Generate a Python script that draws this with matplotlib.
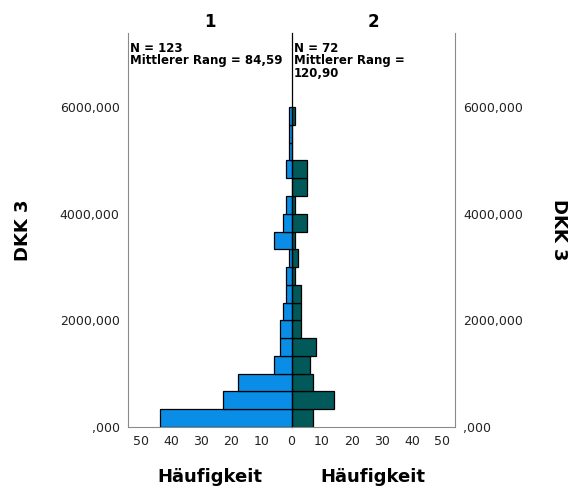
import numpy as np
import matplotlib
matplotlib.use("Agg")
import matplotlib.pyplot as plt

# Klassenbreite der Histogramme (DKK 3)
bin_width = 6000 / 18
bin_starts = np.arange(18) * bin_width

# Häufigkeiten je Klasse, Gruppe 1 (links) und Gruppe 2 (rechts)
freq_1 = [44, 23, 18, 6, 4, 4, 3, 2, 2, 1, 6, 3, 2, 0, 2, 1, 1, 1]
freq_2 = [7, 14, 7, 6, 8, 3, 3, 3, 1, 2, 1, 5, 1, 5, 5, 0, 0, 1]

group_titles = ["1", "2"]
info_1 = "N = 123\nMittlerer Rang = 84,59"
info_2 = "N = 72\nMittlerer Rang =\n120,90"

y_ticks = [0, 2000, 4000, 6000]
y_labels = [",000", "2000,000", "4000,000", "6000,000"]
x_ticks_left = [0, 10, 20, 30, 40, 50]
x_ticks_right = [10, 20, 30, 40, 50]

blue = "#0a8de6"
teal = "#02595a"
gray = "#8a8a8a"

fig = plt.figure(figsize=(5.7, 4.91), dpi=100)
bottom, top = 1 - 427 / 491, 1 - 33 / 491
x0, xm, x1 = 128 / 570, 291.5 / 570, 455 / 570
ax_l = fig.add_axes([x0, bottom, xm - x0, top - bottom])
ax_r = fig.add_axes([xm, bottom, x1 - xm, top - bottom], sharey=ax_l)
ax_r.patch.set_visible(False)

ax_l.barh(bin_starts, freq_1, height=bin_width, align="edge",
          color=blue, edgecolor="black", linewidth=0.9)
ax_r.barh(bin_starts, freq_2, height=bin_width, align="edge",
          color=teal, edgecolor="black", linewidth=0.9)

ax_l.set_xlim(54.5, 0)
ax_r.set_xlim(0, 54.3)
ax_l.set_ylim(0, 7390)

for ax in (ax_l, ax_r):
    ax.spines["top"].set_visible(False)
    ax.spines["bottom"].set_color(gray)
    ax.tick_params(length=0, labelsize=9, labelcolor="#222222", pad=6)

ax_l.spines["left"].set_color(gray)
ax_l.spines["right"].set_visible(False)
ax_r.spines["left"].set_color("black")
ax_r.spines["left"].set_linewidth(0.9)
ax_r.spines["right"].set_color(gray)

ax_l.set_xticks(x_ticks_left)
ax_l.set_xticklabels([str(v) for v in x_ticks_left])
ax_r.set_xticks(x_ticks_right)
ax_r.set_xticklabels([str(v) for v in x_ticks_right])

ax_l.set_yticks(y_ticks)
ax_l.set_yticklabels(y_labels)
ax_r.yaxis.tick_right()
ax_r.tick_params(axis="y", labelright=True, labelleft=False)
ax_r.set_yticks(y_ticks)
ax_r.set_yticklabels(y_labels)

ax_l.set_ylabel("DKK 3", fontsize=13, fontweight="bold", labelpad=20)
ax_r.yaxis.set_label_position("right")
ax_r.set_ylabel("DKK 3", fontsize=13, fontweight="bold", rotation=270,
                labelpad=32)

ax_l.set_xlabel("Häufigkeit", fontsize=13, fontweight="bold", labelpad=14)
ax_r.set_xlabel("Häufigkeit", fontsize=13, fontweight="bold", labelpad=14)

ax_l.set_title(group_titles[0], fontsize=12, fontweight="bold", pad=4)
ax_r.set_title(group_titles[1], fontsize=12, fontweight="bold", pad=4)

ax_l.text(0.012, 0.978, info_1, transform=ax_l.transAxes, va="top", ha="left",
          fontsize=8.5, fontweight="bold", linespacing=0.95)
ax_r.text(0.015, 0.978, info_2, transform=ax_r.transAxes, va="top", ha="left",
          fontsize=8.5, fontweight="bold", linespacing=0.95)

fig.savefig("out.png", dpi=100)
